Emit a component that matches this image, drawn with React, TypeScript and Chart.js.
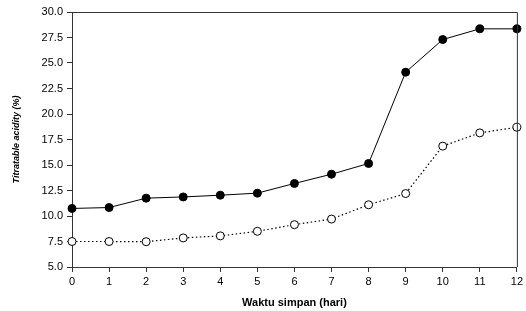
import React, { useEffect, useRef } from "react";
import { Chart, registerables } from "chart.js";

Chart.register(...registerables);

const days = [0, 1, 2, 3, 4, 5, 6, 7, 8, 9, 10, 11, 12];
const filledSeries = [10.74, 10.83, 11.75, 11.87, 12.04, 12.24, 13.19, 14.1, 15.15, 24.1, 27.3, 28.35, 28.35];
const openSeries = [7.5, 7.5, 7.48, 7.85, 8.05, 8.5, 9.15, 9.7, 11.1, 12.2, 16.85, 18.15, 18.7];
const xTitle = "Waktu simpan (hari)";
const yTitle = "Titratable acidity (%)";

const FONT = "Arial, 'Liberation Sans', Helvetica, sans-serif";

const frame = {
  id: "frame",
  afterDatasetsDraw(chart: any) {
    const { ctx, chartArea } = chart;
    ctx.save();
    ctx.strokeStyle = "#333";
    ctx.lineWidth = 1;
    ctx.beginPath();
    ctx.moveTo(chartArea.left, chartArea.top + 0.5);
    ctx.lineTo(chartArea.right + 0.5, chartArea.top + 0.5);
    ctx.lineTo(chartArea.right + 0.5, chartArea.bottom);
    ctx.stroke();
    ctx.restore();
  },
};

export default function App() {
  const ref = useRef<HTMLCanvasElement>(null);
  useEffect(() => {
    if (!ref.current) return;
    const chart = new Chart(ref.current, {
      type: "line",
      data: {
        datasets: [
          {
            data: days.map((d, i) => ({ x: d, y: filledSeries[i] })),
            borderColor: "#000",
            borderWidth: 1,
            backgroundColor: "#000",
            pointBackgroundColor: "#000",
            pointBorderColor: "#000",
            pointRadius: 4,
            pointBorderWidth: 1,
            tension: 0,
            clip: false as any,
          },
          {
            data: days.map((d, i) => ({ x: d, y: openSeries[i] })),
            borderColor: "#000",
            borderWidth: 1.2,
            borderDash: [1.5, 2.5],
            backgroundColor: "#fff",
            pointBackgroundColor: "#fff",
            pointBorderColor: "#000",
            pointRadius: 4,
            pointBorderWidth: 1,
            tension: 0,
            clip: false as any,
          },
        ],
      },
      options: {
        animation: false,
        responsive: false,
        layout: { padding: { top: 12, right: 7, left: 0, bottom: 0 } },
        plugins: { legend: { display: false }, tooltip: { enabled: false } },
        scales: {
          x: {
            type: "linear",
            min: 0,
            max: 12,
            ticks: {
              stepSize: 1,
              color: "#000",
              font: { family: FONT, size: 11 },
              padding: 3,
              maxRotation: 0,
            },
            grid: { drawOnChartArea: false, drawTicks: true, tickLength: 5, color: "#333" },
            border: { display: true, color: "#333", width: 1 },
            title: {
              display: true,
              text: xTitle,
              color: "#000",
              font: { family: FONT, size: 11, weight: "bold" },
              padding: { top: 0, bottom: 1 },
            },
            afterFit(scale: any) {
              scale.height = 44;
            },
          },
          y: {
            type: "linear",
            min: 5,
            max: 30,
            ticks: {
              stepSize: 2.5,
              color: "#000",
              font: { family: FONT, size: 11 },
              padding: 4,
              callback: (v: any) => Number(v).toFixed(1),
            },
            grid: { drawOnChartArea: false, drawTicks: true, tickLength: 5, color: "#333" },
            border: { display: true, color: "#333", width: 1 },
            title: {
              display: true,
              text: yTitle,
              color: "#000",
              font: { family: FONT, size: 9, weight: "bold", style: "italic" },
              padding: { top: 11, bottom: 0 },
            },
            afterFit(scale: any) {
              scale.width = 72;
            },
          },
        },
      },
      plugins: [frame],
    });
    return () => chart.destroy();
  }, []);
  return (
    <div style={{ position: "fixed", left: 0, top: 0, width: 526, height: 311, background: "#fff" }}>
      <canvas ref={ref} width={526} height={311} style={{ width: 526, height: 311, display: "block" }} />
    </div>
  );
}
